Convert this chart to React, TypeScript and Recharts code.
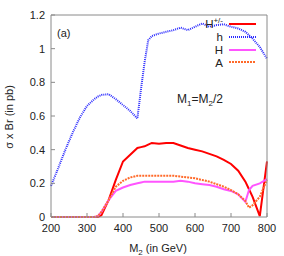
import { LineChart, Line, XAxis, YAxis } from 'recharts';

const masses = [
  200, 220, 240, 260, 280, 300, 320, 330, 340, 360, 380, 400, 420, 440, 450, 460, 470, 480, 500,
  520, 540, 560, 580, 600, 620, 640, 660, 680, 700, 720, 740, 750, 760, 780, 800,
];

const chargedHiggs = [
  0, 0, 0, 0, 0, 0, 0, 0, 0.01, 0.1, 0.22, 0.33, 0.37, 0.41, 0.415, 0.42, 0.43, 0.44, 0.435,
  0.44, 0.44, 0.425, 0.41, 0.4, 0.39, 0.375, 0.36, 0.34, 0.315, 0.275, 0.21, 0.165, 0.12, 0.005, 0.33,
];

const lightHiggs = [
  0.185, 0.29, 0.4, 0.5, 0.59, 0.66, 0.7, 0.715, 0.725, 0.73, 0.7, 0.665, 0.63, 0.585, 0.76, 0.92,
  1.05, 1.075, 1.09, 1.1, 1.11, 1.125, 1.11, 1.13, 1.15, 1.13, 1.14, 1.145, 1.13, 1.12, 1.1, 1.08,
  1.06, 1.01, 0.94,
];

const heavyHiggs = [
  0, 0, 0, 0, 0, 0, 0, 0.005, 0.03, 0.1, 0.155, 0.175, 0.19, 0.2, 0.205, 0.21, 0.21, 0.21, 0.21,
  0.21, 0.21, 0.215, 0.21, 0.2, 0.195, 0.19, 0.18, 0.165, 0.155, 0.135, 0.09, 0.16, 0.185, 0.2, 0.225,
];

const pseudoscalar = [
  0, 0, 0, 0, 0, 0, 0, 0.005, 0.03, 0.1, 0.18, 0.215, 0.235, 0.245, 0.245, 0.245, 0.245, 0.245,
  0.245, 0.245, 0.245, 0.24, 0.235, 0.23, 0.22, 0.21, 0.195, 0.18, 0.16, 0.135, 0.095, 0.055, 0.07,
  0.12, 0.22,
];

const xTicks = [200, 300, 400, 500, 600, 700, 800];
const yTicks = [0, 0.2, 0.4, 0.6, 0.8, 1, 1.2];

const data = masses.map((m, i) => ({
  m,
  hpm: chargedHiggs[i],
  h: lightHiggs[i],
  H: heavyHiggs[i],
  A: pseudoscalar[i],
}));

const font = "'Liberation Sans', Arial, sans-serif";
const frame = '#8a8a8a';
const ink = '#222';
const tickText = { fontSize: 11, fill: ink, fontFamily: font };

// legend rows drawn over the plot, like gnuplot's key
const legendRows = [
  { y: 24, color: '#ff0000', dash: undefined },
  { y: 37, color: '#2a2aff', dash: '1 1' },
  { y: 50, color: '#ff55ff', dash: undefined },
  { y: 62, color: '#ff6a2a', dash: '2 1' },
];

export default function App() {
  return (
    <div style={{ position: 'absolute', left: 0, top: 0, width: 284, height: 256, background: '#fff' }}>
      <LineChart width={284} height={256} data={data} margin={{ top: 10, right: 12, bottom: 9, left: 11 }}>
        <XAxis
          dataKey="m"
          type="number"
          domain={[200, 800]}
          ticks={xTicks}
          height={30}
          stroke={frame}
          tickSize={-4}
          tickMargin={11}
          tick={tickText}
        />
        <XAxis
          xAxisId="top"
          orientation="top"
          type="number"
          domain={[200, 800]}
          ticks={xTicks}
          allowDataOverflow
          height={5}
          stroke={frame}
          tickSize={-4}
          tick={false}
        />
        <YAxis
          domain={[0, 1.2]}
          ticks={yTicks}
          width={40}
          stroke={frame}
          tickSize={-4}
          tickMargin={10}
          tick={tickText}
        />
        <YAxis
          yAxisId="right"
          orientation="right"
          domain={[0, 1.2]}
          ticks={yTicks}
          allowDataOverflow
          width={5}
          stroke={frame}
          tickSize={-4}
          tick={false}
        />
        <Line type="linear" dataKey="hpm" stroke="#ff0000" strokeWidth={2} dot={false} isAnimationActive={false} />
        <Line
          type="linear"
          dataKey="h"
          stroke="#2a2aff"
          strokeWidth={2}
          strokeDasharray="1 1"
          dot={false}
          isAnimationActive={false}
        />
        <Line type="linear" dataKey="H" stroke="#ff55ff" strokeWidth={2} dot={false} isAnimationActive={false} />
        <Line
          type="linear"
          dataKey="A"
          stroke="#ff6a2a"
          strokeWidth={2}
          strokeDasharray="2 1"
          dot={false}
          isAnimationActive={false}
        />
      </LineChart>
      <svg
        width={284}
        height={256}
        style={{ position: 'absolute', left: 0, top: 0, pointerEvents: 'none' }}
        fontFamily={font}
      >
        <text x={57} y={37} fontSize={11} fill={ink}>(a)</text>
        <text x={177} y={103} fontSize={12} fill={ink}>
          M<tspan fontSize={8} dy={3}>1</tspan>
          <tspan dy={-3}>=M</tspan>
          <tspan fontSize={8} dy={3}>2</tspan>
          <tspan dy={-3}>/2</tspan>
        </text>
        <text x={223} y={28} fontSize={11.5} fill={ink} textAnchor="end">
          H<tspan fontSize={8} dy={-5}>+/-</tspan>
        </text>
        <text x={223} y={41} fontSize={11.5} fill={ink} textAnchor="end">h</text>
        <text x={223} y={54} fontSize={11.5} fill={ink} textAnchor="end">H</text>
        <text x={223} y={66.5} fontSize={11.5} fill={ink} textAnchor="end">A</text>
        {legendRows.map((r) => (
          <line key={r.y} x1={229} x2={256} y1={r.y} y2={r.y} stroke={r.color} strokeWidth={2} strokeDasharray={r.dash} />
        ))}
        <text x={9} y={117} fontSize={11} fill={ink} textAnchor="middle" transform="rotate(-90 9 117)" dominantBaseline="central">
          σ x Br (in pb)
        </text>
        <text x={158} y={252} fontSize={11} fill={ink} textAnchor="middle">
          M<tspan fontSize={8} dy={3}>2</tspan>
          <tspan dy={-3}> (in GeV)</tspan>
        </text>
      </svg>
    </div>
  );
}
